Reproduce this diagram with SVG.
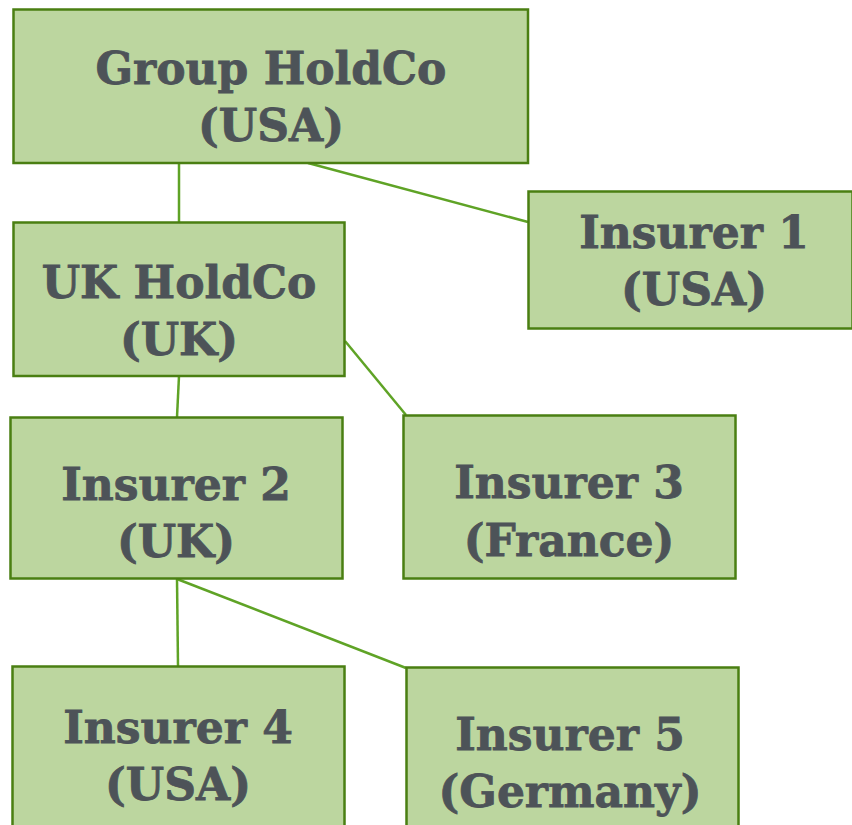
<svg xmlns="http://www.w3.org/2000/svg" width="852" height="825" viewBox="0 0 852 825">
<style>
.box{fill:#bcd69f;stroke:#4a7f12;stroke-width:2.5}
.lbl{font-family:"DejaVu Serif",serif;font-weight:bold;font-size:44px;fill:#4d5358;stroke:#4d5358;stroke-width:0.8;text-anchor:middle}
.con line{stroke:#5fa326;stroke-width:2.5}
</style>
<rect width="852" height="825" fill="#ffffff"/>
<g class="con" id="connectors">
<line x1="179" y1="163" x2="179" y2="222"/>
<line x1="308" y1="163" x2="528" y2="222"/>
<line x1="345" y1="341" x2="406" y2="415"/>
<line x1="179" y1="376" x2="177" y2="417"/>
<line x1="177" y1="579" x2="178" y2="666"/>
<line x1="177" y1="579" x2="406" y2="668"/>
</g>
<g id="group-holdco"><rect class="box" x="13.5" y="9.5" width="514.5" height="153.5"/><text class="lbl" x="271" y="84">Group HoldCo</text><text class="lbl" x="271" y="141">(USA)</text></g>
<g id="insurer1"><rect class="box" x="528.5" y="191.5" width="324" height="137"/><text class="lbl" x="694" y="248">Insurer 1</text><text class="lbl" x="694" y="305">(USA)</text></g>
<g id="uk-holdco"><rect class="box" x="13.5" y="222.5" width="331" height="153.5"/><text class="lbl" x="179" y="298">UK HoldCo</text><text class="lbl" x="179" y="355">(UK)</text></g>
<g id="insurer2"><rect class="box" x="10.5" y="417.5" width="332" height="161"/><text class="lbl" x="176" y="500">Insurer 2</text><text class="lbl" x="176" y="557">(UK)</text></g>
<g id="insurer3"><rect class="box" x="403.5" y="415.5" width="332" height="163"/><text class="lbl" x="569" y="498">Insurer 3</text><text class="lbl" x="569" y="556">(France)</text></g>
<g id="insurer4"><rect class="box" x="12.5" y="666.5" width="332" height="170"/><text class="lbl" x="178" y="743">Insurer 4</text><text class="lbl" x="178" y="800">(USA)</text></g>
<g id="insurer5"><rect class="box" x="406.5" y="667.5" width="332" height="170"/><text class="lbl" x="570" y="750">Insurer 5</text><text class="lbl" x="570" y="807">(Germany)</text></g>
</svg>
